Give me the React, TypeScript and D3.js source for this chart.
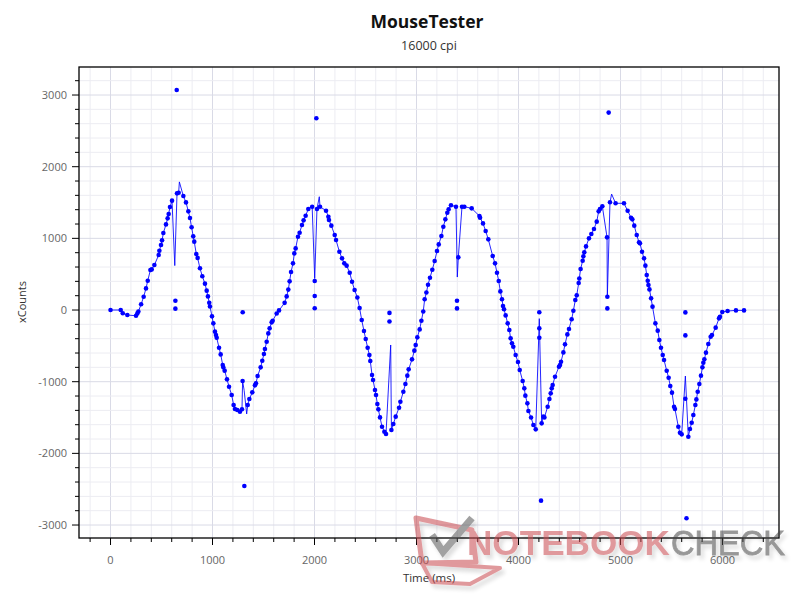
import React from "react";
import * as d3 from "d3";

// Main samples (dot + line), time in ms / xCounts
const times = [0,100,120,165,250,263,273,300,325,348,365,391,404,430,472,479,495,505,518,544,560,570,583,603,652,668,714,740,763,779,795,811,821,841,854,877,900,926,943,955,968,975,995,1008,1024,1034,1041,1064,1080,1100,1106,1119,1142,1162,1188,1207,1220,1243,1269,1289,1295,1345,1361,1390,1416,1426,1442,1472,1488,1504,1514,1531,1547,1560,1580,1590,1629,1652,1707,1727,1743,1756,1770,1789,1802,1815,1838,1854,1877,1893,1913,1939,1977,2024,2054,2113,2136,2142,2165,2198,2211,2244,2270,2292,2315,2345,2368,2393,2420,2442,2463,2485,2502,2521,2538,2547,2564,2574,2593,2603,2616,2626,2642,2662,2685,2701,2754,2773,2796,2829,2842,2871,2891,2910,2923,2956,2979,2992,3008,3031,3048,3066,3080,3097,3113,3132,3155,3178,3201,3218,3244,3263,3283,3302,3315,3338,3387,3410,3446,3469,3541,3617,3623,3652,3678,3704,3747,3770,3789,3806,3822,3838,3848,3858,3874,3894,3910,3923,3936,3949,3972,3995,4012,4041,4057,4067,4087,4097,4123,4146,4169,4227,4244,4254,4286,4303,4316,4326,4335,4358,4397,4407,4417,4440,4456,4479,4495,4521,4538,4557,4571,4590,4596,4609,4629,4636,4645,4662,4691,4714,4740,4767,4786,4799,4822,4868,4871,4897,4952,5034,5070,5103,5116,5135,5159,5182,5191,5211,5231,5244,5257,5267,5274,5284,5300,5314,5342,5365,5381,5397,5414,5427,5453,5472,5488,5505,5525,5534,5567,5583,5600,5665,5681,5698,5714,5734,5744,5757,5773,5789,5803,5812,5822,5838,5861,5884,5897,5933,5966,5975,5998,6050,6132,6211];
const counts = [0,0,-45,-70,-80,-47,-20,80,186,302,409,558,567,628,767,828,907,972,1074,1195,1279,1340,1438,1526,1628,1637,1590,1502,1377,1284,1154,1028,954,782,727,583,471,368,270,190,100,50,-88,-186,-302,-349,-386,-526,-619,-767,-800,-846,-967,-1070,-1186,-1326,-1381,-1395,-1419,-1385,-990,-1326,-1242,-1149,-1051,-1023,-921,-800,-707,-614,-544,-442,-326,-256,-172,-149,-48,-5,100,190,285,400,530,651,790,860,1023,1079,1186,1251,1316,1409,1442,1409,1442,1386,1302,1256,1177,1047,977,814,721,651,619,521,395,279,175,28,-140,-293,-405,-526,-628,-712,-907,-977,-1116,-1186,-1312,-1386,-1498,-1628,-1698,-1730,-1674,-1591,-1488,-1363,-1279,-1140,-1033,-916,-828,-688,-567,-488,-381,-270,-149,-20,150,244,353,450,563,684,823,916,1033,1163,1265,1358,1405,1461,1442,735,1442,1442,1419,1312,1288,1209,1102,986,754,651,521,405,260,150,56,10,-75,-186,-279,-395,-465,-512,-628,-726,-837,-991,-1093,-1195,-1302,-1409,-1500,-1605,-1665,-1581,-1488,-1498,-1349,-1242,-1163,-1093,-1047,-930,-791,-767,-721,-591,-479,-340,-265,-128,-10,140,205,377,440,572,688,749,805,888,1000,1060,1130,1233,1377,1409,1447,1014,186,1503,1489,1489,1386,1288,1265,1177,1047,944,930,814,721,619,488,409,349,288,163,47,-186,-288,-419,-526,-628,-698,-847,-944,-1060,-1153,-1349,-1381,-1628,-1712,-1735,-1768,-1661,-1572,-1465,-1326,-1247,-1140,-1033,-916,-800,-735,-688,-595,-475,-372,-349,-246,-116,-93,-28,-14,-5,-5];

// Vertices of the connecting line that carry no marker
const spikeTimes = [630,675,1310,1335,2002,2047,2747,3400,4204,4913,5636];
const spikeCounts = [620,1788,-1120,-1450,440,1581,-488,460,-120,1618,-921];

// Isolated markers not on the line
const outlierTimes = [636,636,649,1296,1312,2002,2002,2002,2018,2735,2735,3397,3397,4204,4204,4204,4221,4871,4884,5636,5636,5636,5647];
const outlierCounts = [130,19,3070,-30,-2456,404,195,25,2675,-40,-160,130,23,-30,-256,-386,-2660,23,2755,-33,-354,-1237,-2906];

const xTickValues = [0,1000,2000,3000,4000,5000,6000];
const yTickValues = [-3000,-2000,-1000,0,1000,2000,3000];

const FONT = "'Segoe UI', 'Open Sans', 'Noto Sans', sans-serif";
const WM_FONT = "'Liberation Sans', 'DejaVu Sans', sans-serif";

export default function App() {
  const left = 79, right = 779, top = 67, bottom = 538;
  const x = d3.scaleLinear().domain([-309, 6554]).range([left, right]);
  const y = d3.scaleLinear().domain([-3181, 3391]).range([bottom, top]);

  const xMinor = d3.range(-200, 6554, 200);
  const yMinor = d3.range(-3000, 3391, 200);

  const linePts: [number, number][] = [
    ...times.map((t, i) => [t, counts[i]] as [number, number]),
    ...spikeTimes.map((t, i) => [t, spikeCounts[i]] as [number, number]),
  ].sort((a, b) => a[0] - b[0]);

  const lineGen = d3.line<[number, number]>().x(d => x(d[0])).y(d => y(d[1]));

  const dots: [number, number][] = [
    ...times.map((t, i) => [t, counts[i]] as [number, number]),
    ...outlierTimes.map((t, i) => [t, outlierCounts[i]] as [number, number]),
  ];

  return (
    <svg width={800} height={600} style={{ display: "block", background: "#fff" }} fontFamily={FONT}>
      <style>{"body{margin:0}"}</style>
      <defs>
        <filter id="wmShadow" x="-10%" y="-20%" width="130%" height="160%">
          <feGaussianBlur in="SourceAlpha" stdDeviation="2" />
          <feOffset dx="3" dy="4" result="b" />
          <feComponentTransfer><feFuncA type="linear" slope="0.25" /></feComponentTransfer>
          <feMerge><feMergeNode /><feMergeNode in="SourceGraphic" /></feMerge>
        </filter>
      </defs>
      <rect x={0} y={0} width={800} height={600} fill="#fff" />
      {/* title */}
      <text x={427} y={28} textAnchor="middle" fontSize={17.5} fontWeight="bold" fill="#111">MouseTester</text>
      <text x={429} y={50} textAnchor="middle" fontSize={12.5} fill="#333">16000 cpi</text>

      {/* grid */}
      <g>
        {xMinor.map(v => (
          <line key={"gx" + v} x1={x(v)} x2={x(v)} y1={top} y2={bottom}
            stroke={v % 1000 === 0 ? "#d9dae6" : "#ececf2"} strokeWidth={1} />
        ))}
        {yMinor.map(v => (
          <line key={"gy" + v} y1={y(v)} y2={y(v)} x1={left} x2={right}
            stroke={v % 1000 === 0 ? "#d9dae6" : "#ececf2"} strokeWidth={1} />
        ))}
      </g>

      {/* frame */}
      <rect x={left} y={top} width={right - left} height={bottom - top} fill="none" stroke="#000" strokeWidth={1.3} />

      {/* x ticks */}
      {xMinor.map(v => (
        <line key={"tx" + v} x1={x(v)} x2={x(v)} y1={bottom} y2={bottom + (v % 1000 === 0 ? 7 : 4)} stroke="#000" strokeWidth={1} />
      ))}
      {xTickValues.map(v => (
        <text key={"lx" + v} x={x(v)} y={564} textAnchor="middle" fontSize={11} fill="#666">{v}</text>
      ))}
      {/* y ticks */}
      {yMinor.map(v => (
        <line key={"ty" + v} y1={y(v)} y2={y(v)} x1={left} x2={left - (v % 1000 === 0 ? 7 : 4)} stroke="#000" strokeWidth={1} />
      ))}
      {yTickValues.map(v => (
        <text key={"ly" + v} x={67} y={y(v) + 4} textAnchor="end" fontSize={11} fill="#666">{v}</text>
      ))}

      {/* axis titles */}
      <text x={429} y={582} textAnchor="middle" fontSize={11.5} fill="#333">Time (ms)</text>
      <text transform="translate(26,302) rotate(-90)" textAnchor="middle" fontSize={11} fill="#333">xCounts</text>

      {/* data */}
      <path d={lineGen(linePts) || ""} fill="none" stroke="#0000ff" strokeWidth={1} strokeOpacity={0.85} />
      {dots.map((d, i) => (
        <circle key={"d" + i} cx={x(d[0])} cy={y(d[1])} r={2.3} fill="#0000ff" />
      ))}

      {/* watermark */}
      <g opacity={0.55} filter="url(#wmShadow)">
        <path d="M 416 518 L 472 530 L 476 562 L 422 563 Z" fill="none" stroke="#c8464d" strokeWidth={5} strokeLinejoin="round" />
        <path d="M 422 563 L 500 568 L 470 584 L 432 582 Z" fill="none" stroke="#c8464d" strokeWidth={4} strokeLinejoin="round" />
        <path d="M 432 535 L 443 552 L 472 518" fill="none" stroke="#555" strokeWidth={7} />
        <text x={467} y={555} fontSize={35} fontWeight="bold" fill="#c8464d" textLength={203} lengthAdjust="spacingAndGlyphs"
          fontFamily={WM_FONT}>NOTEBOOK</text>
        <text x={671} y={555} fontSize={35} fill="#444" stroke="#444" strokeWidth={0.8} textLength={114} lengthAdjust="spacingAndGlyphs"
          fontFamily={WM_FONT}>CHECK</text>
      </g>
    </svg>
  );
}
